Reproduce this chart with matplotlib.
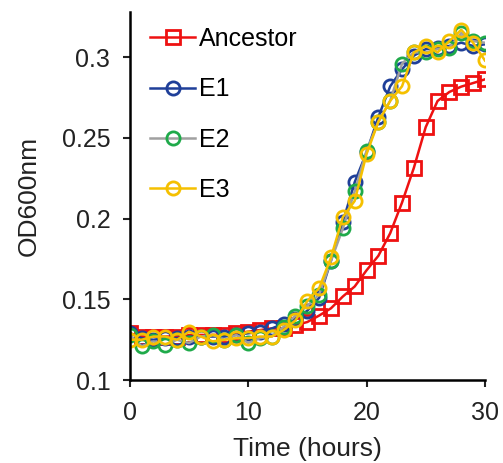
import matplotlib
matplotlib.use("Agg")
import matplotlib.pyplot as plt

plt.rcParams['font.family'] = ['Liberation Sans', 'DejaVu Sans']

hours = list(range(31))
ancestor = [0.129, 0.127, 0.127, 0.127, 0.127, 0.128, 0.128, 0.128, 0.128, 0.129,
            0.130, 0.131, 0.132, 0.132, 0.134, 0.136, 0.140, 0.1445, 0.1518, 0.158,
            0.168, 0.177, 0.191, 0.210, 0.2315, 0.2567, 0.2729, 0.2785, 0.2818, 0.284, 0.2863]
e1 = [0.129, 0.126, 0.125, 0.126, 0.126, 0.127, 0.127, 0.127, 0.127, 0.128,
      0.129, 0.130, 0.132, 0.135, 0.138, 0.143, 0.151, 0.174, 0.198, 0.2226,
      0.241, 0.263, 0.282, 0.2925, 0.301, 0.305, 0.306, 0.307, 0.309, 0.307, 0.308]
e2 = [0.128, 0.121, 0.124, 0.122, 0.125, 0.123, 0.127, 0.128, 0.125, 0.128,
      0.123, 0.126, 0.127, 0.133, 0.140, 0.146, 0.153, 0.174, 0.194, 0.217,
      0.242, 0.260, 0.273, 0.296, 0.303, 0.303, 0.305, 0.306, 0.315, 0.310, 0.309]
e3 = [0.125, 0.125, 0.127, 0.127, 0.125, 0.130, 0.127, 0.124, 0.125, 0.126,
      0.126, 0.127, 0.127, 0.131, 0.137, 0.149, 0.157, 0.176, 0.201, 0.211,
      0.240, 0.260, 0.273, 0.282, 0.303, 0.307, 0.303, 0.310, 0.317, 0.309, 0.298]

xticks = [0, 10, 20, 30]
yticks = [0.1, 0.15, 0.2, 0.25, 0.3]
ytick_labels = ['0.1', '0.15', '0.2', '0.25', '0.3']

fig = plt.figure(figsize=(5.03, 4.63), dpi=100)
ax = fig.add_axes([0.258, 0.179, 0.706, 0.795])

ms = 9.5
mew = 2.0
lw = 1.8
ax.plot(hours, ancestor, color='#EE1111', marker='s', ms=ms, mfc='none', mec='#EE1111',
        mew=mew, lw=lw, label='Ancestor')
ax.plot(hours, e1, color='#1F3F99', marker='o', ms=ms, mfc='none', mec='#1F3F99',
        mew=mew, lw=lw, label='E1')
ax.plot(hours, e2, color='#A0A0A0', marker='o', ms=ms, mfc='none', mec='#1FAA4A',
        mew=mew, lw=lw, label='E2')
ax.plot(hours, e3, color='#F5C000', marker='o', ms=ms, mfc='none', mec='#F5C000',
        mew=mew, lw=lw, label='E3')

ax.set_xlim(0, 30)
ax.set_ylim(0.1, 0.328)
ax.set_xticks(xticks)
ax.set_xticklabels([str(t) for t in xticks])
ax.set_yticks(yticks)
ax.set_yticklabels(ytick_labels)
ax.spines['top'].set_visible(False)
ax.spines['right'].set_visible(False)
for s in ['left', 'bottom']:
    ax.spines[s].set_linewidth(1.8)
    ax.spines[s].set_color('black')
ax.tick_params(axis='both', direction='out', length=5, width=1.5, labelsize=18, colors='#222222')
ax.tick_params(axis='x', pad=10)
ax.tick_params(axis='y', pad=9)
ax.set_xlabel('Time (hours)', fontsize=19, color='#222222', labelpad=9)
ax.set_ylabel('OD600nm', fontsize=19, color='#222222', labelpad=15)

ax.legend(loc='upper left', frameon=False, fontsize=18, handlelength=1.8,
          handletextpad=0.15, labelspacing=1.05, borderaxespad=0.2,
          bbox_to_anchor=(0.015, 1.0))

fig.savefig('out.png', dpi=100)
